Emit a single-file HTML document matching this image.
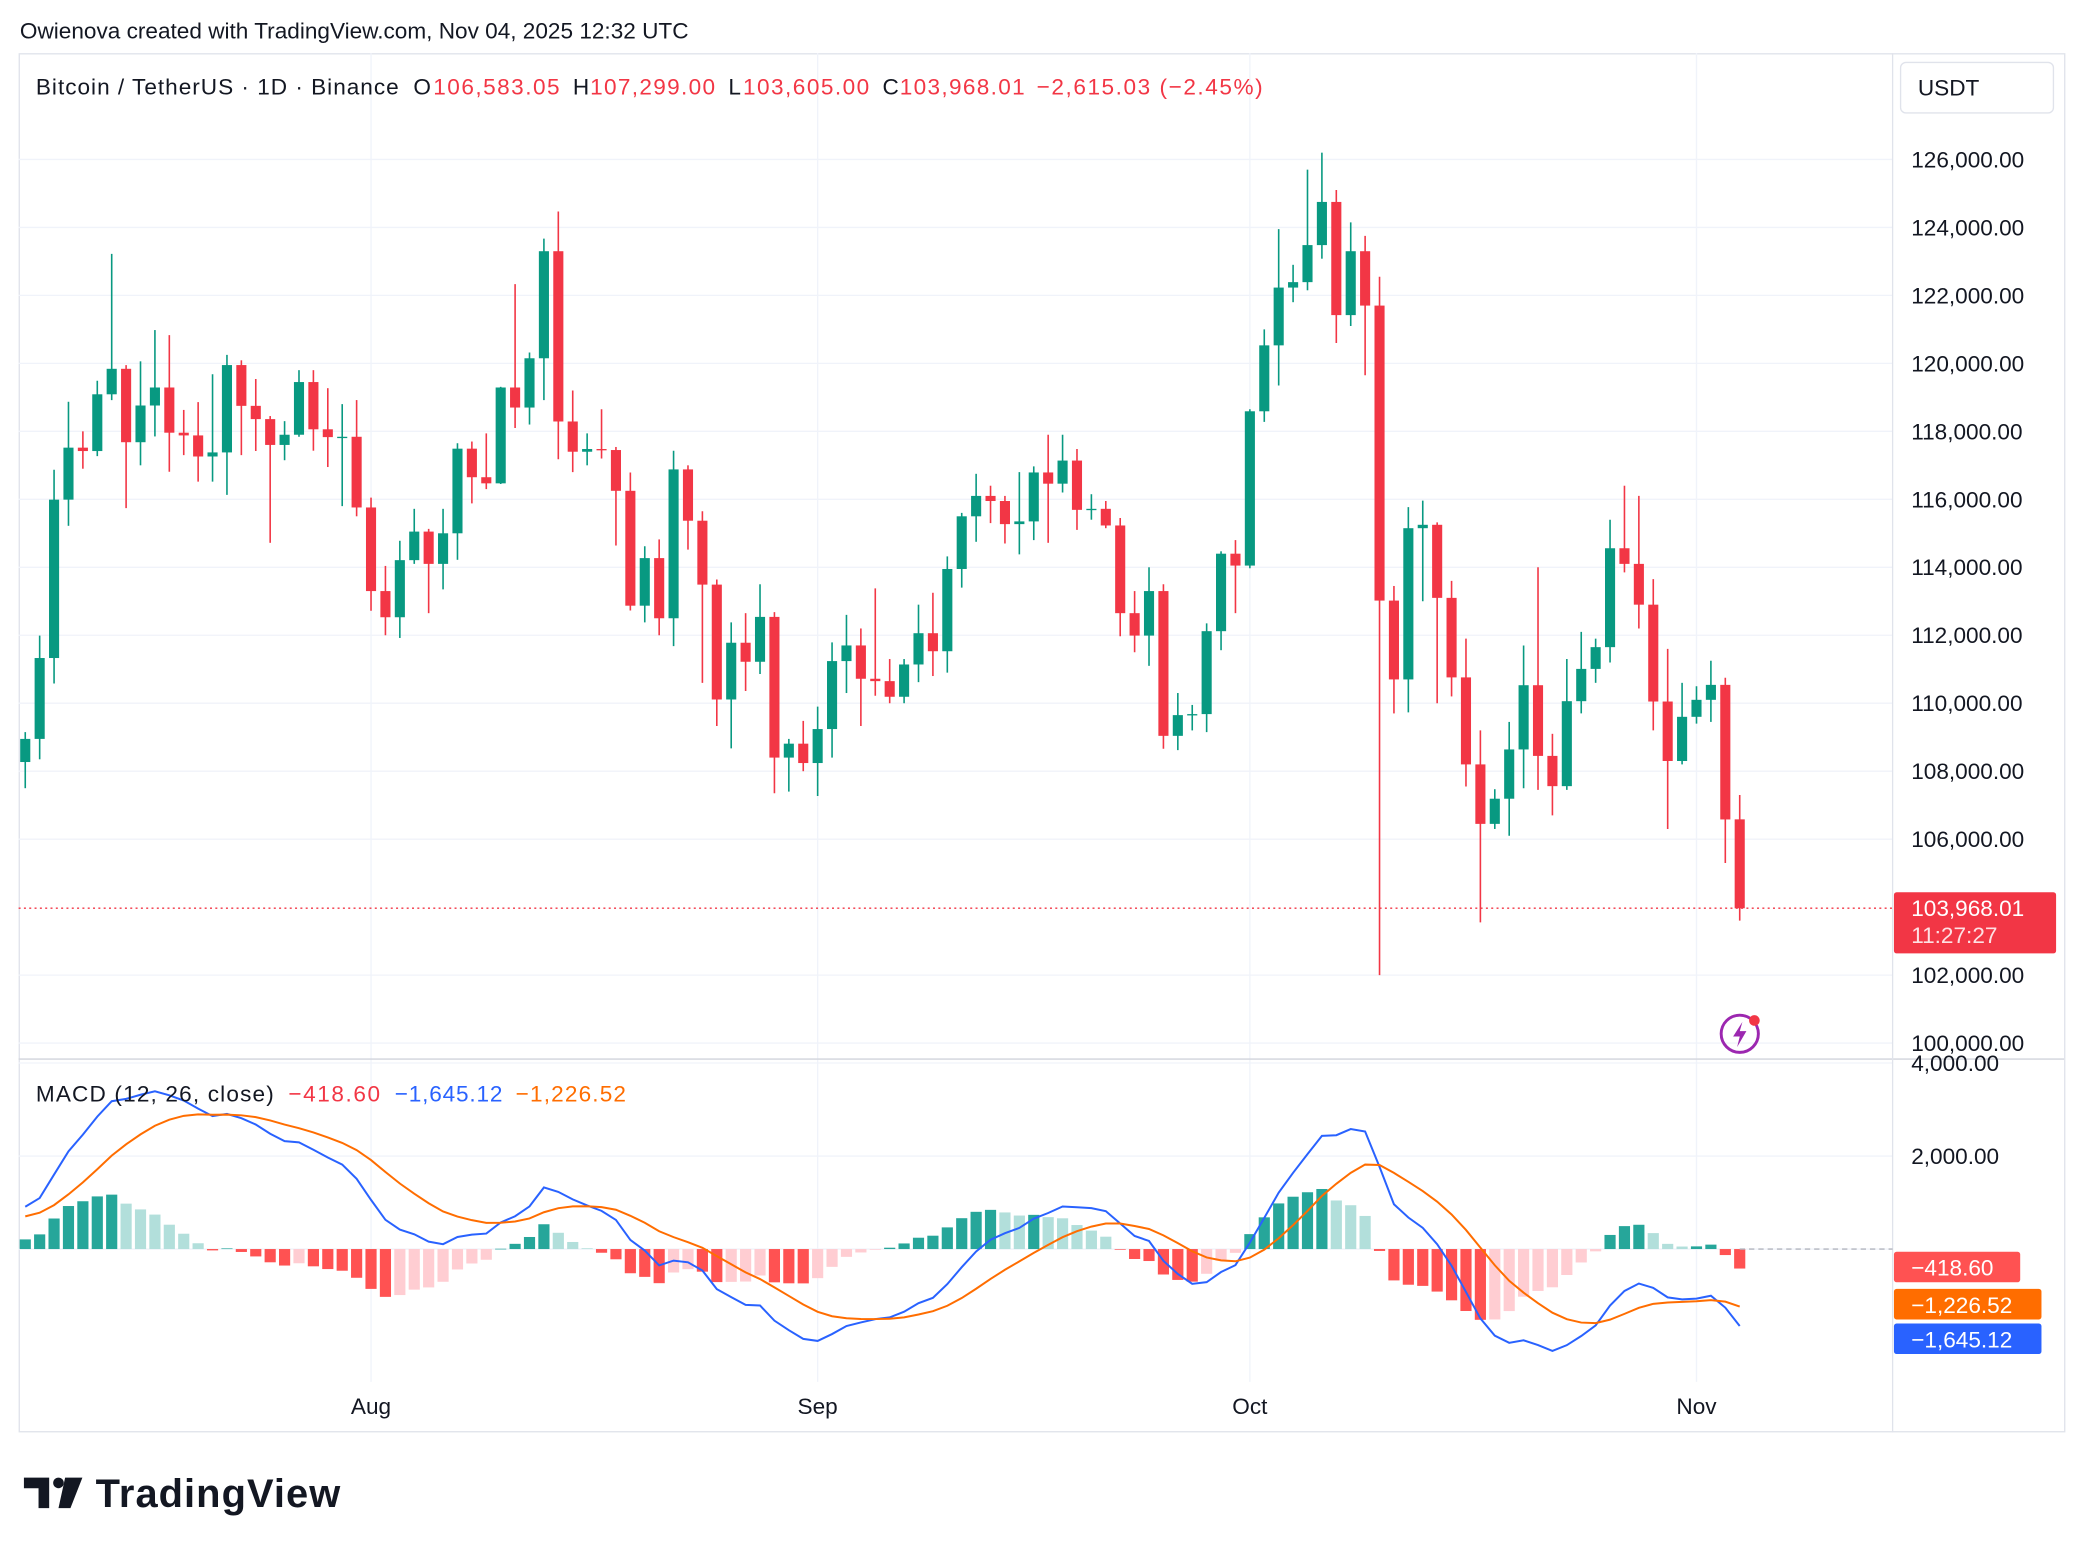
<!DOCTYPE html>
<html><head><meta charset="utf-8"><style>
html,body{margin:0;padding:0;background:#fff;width:2084px;height:1552px;overflow:hidden}
svg{display:block;font-family:"Liberation Sans",sans-serif}
</style></head><body>
<svg id="c" width="2084" height="1552" viewBox="0 0 1568 1168" preserveAspectRatio="none">
<text x="15" y="29" font-size="17" fill="#131722">Owienova created with TradingView.com, Nov 04, 2025 12:32 UTC</text>
<rect x="14.5" y="40.5" width="1539" height="1037" fill="none" stroke="#e0e3eb"/>
<g id="grid"></g>
<line x1="14" y1="797" x2="1553" y2="797" stroke="#d1d4dc"/>
<line x1="1424" y1="40" x2="1424" y2="1078" stroke="#e0e3eb"/>
<g id="marks"></g>
<g id="axis"></g>
<text y="71" font-size="17"><tspan x="27" fill="#131722" textLength="273">Bitcoin / TetherUS · 1D · Binance</tspan><tspan x="311" fill="#131722">O</tspan><tspan x="326" fill="#f23645" textLength="95">106,583.05</tspan><tspan x="431" fill="#131722">H</tspan><tspan x="444" fill="#f23645" textLength="94">107,299.00</tspan><tspan x="548" fill="#131722">L</tspan><tspan x="559" fill="#f23645" textLength="95">103,605.00</tspan><tspan x="664" fill="#131722">C</tspan><tspan x="677" fill="#f23645" textLength="94">103,968.01</tspan><tspan x="780" fill="#f23645" textLength="170">−2,615.03 (−2.45%)</tspan></text>
<rect x="1430" y="47" width="115" height="38" rx="4" fill="#fff" stroke="#e0e3eb"/>
<text x="1443" y="72" font-size="17" fill="#131722">USDT</text>
<text y="829" font-size="17"><tspan x="27" fill="#131722" textLength="179">MACD (12, 26, close)</tspan><tspan x="217" fill="#f23645" textLength="69">−418.60</tspan><tspan x="297" fill="#2962ff" textLength="81">−1,645.12</tspan><tspan x="388" fill="#ff6d00" textLength="83">−1,226.52</tspan></text>
<g><circle cx="1309" cy="778" r="14" fill="none" stroke="#9c27b0" stroke-width="2.2"/><path d="M1311 769 L1304 780 L1309 780 L1307 788 L1314 776 L1309 776 Z" fill="#9c27b0"/><circle cx="1320" cy="768" r="4" fill="#f23645"/></g>
<g><path d="M18 1112 H37 V1135 H29 V1120 H18 Z" fill="#131722"/><circle cx="44" cy="1116" r="4" fill="#131722"/><path d="M49 1112 H62 L53 1135 H44 Z" fill="#131722"/>
<text x="72" y="1134" font-size="30" font-weight="bold" fill="#131722" textLength="184">TradingView</text></g>
</svg>
<script>
const ohlc=[
[108270,109150,107500,108950],[108950,111990,108350,111330],[111330,116870,110580,115990],[115990,118870,115220,117520],[117520,118000,116900,117420],[117420,119490,117270,119090],[119090,123220,118920,119840],[119840,119950,115740,117680],[117680,120060,117000,118760],[118760,120980,117850,119290],[119290,120830,116810,117960],[117960,118630,117300,117880],[117880,118860,116520,117260],[117260,119680,116520,117380],[117380,120250,116130,119950],[119950,120090,117300,118750],[118750,119540,117420,118360],[118360,118450,114720,117600],[117600,118300,117150,117900],[117900,119800,117840,119450],[119450,119800,117430,118060],[118060,119270,116950,117830],[117830,118800,115800,117840],[117840,118920,115500,115760],
[115760,116050,112720,113300],[113300,114040,112000,112530],[112530,114780,111920,114210],[114210,115720,114100,115050],[115050,115130,112650,114100],[114100,115720,113350,115000],[115000,117650,114220,117490],[117490,117700,115880,116650],[116650,117940,116300,116470],[116470,119310,116450,119290],[119290,122330,118100,118700],[118700,120320,118200,120150],[120150,123670,118920,123300],[123300,124470,117180,118290],[118290,119200,116800,117400],[117400,117940,117000,117480],[117480,118650,117200,117450],[117450,117540,114640,116250],[116250,116790,112730,112870],[112870,114620,112380,114270],[114270,114820,112000,112500],[112500,117430,111680,116880],[116880,117000,114520,115370],[115370,115650,110600,113490],[113490,113640,109330,110110],[110110,112380,108670,111780],[111780,112650,110360,111220],[111220,113500,110860,112540],[112540,112680,107350,108400],[108400,108950,107400,108810],[108810,109480,108000,108240],
[108240,109900,107270,109240],[109240,111790,108400,111240],[111240,112600,110300,111700],[111700,112200,109330,110720],[110720,113380,110220,110650],[110650,111300,110000,110190],[110190,111300,110000,111140],[111140,112900,110620,112060],[112060,113250,110800,111530],[111530,114320,110900,113950],[113950,115600,113400,115500],[115500,116750,114750,116100],[116100,116400,115300,115950],[115950,116100,114700,115270],[115270,116800,114380,115350],[115350,116970,114800,116790],[116790,117900,114720,116460],[116460,117900,116200,117140],[117140,117480,115100,115690],[115690,116150,115400,115720],[115720,115950,115150,115230],[115230,115450,111970,112650],[112650,113300,111500,111990],[111990,114000,111100,113300],[113300,113500,108660,109040],[109040,110300,108620,109650],[109650,109950,109200,109680],[109680,112350,109150,112120],[112120,114470,111560,114400],[114400,114800,112650,114050],
[114050,118650,113970,118590],[118590,121000,118280,120530],[120530,123950,119350,122230],[122230,122900,121800,122390],[122390,125700,122150,123480],[123480,126200,123080,124750],[124750,125100,120600,121420],[121420,124150,121100,123300],[123300,123750,119650,121700],[121700,122550,102000,113020],[113020,113450,109700,110700],[110700,115770,109730,115150],[115150,115960,113000,115250],[115250,115320,110000,113100],[113100,113600,110200,110760],[110760,111900,107550,108200],[108200,109200,103550,106450],[106450,107470,106300,107190],[107190,109450,106100,108640],[108640,111700,107500,110530],[110530,114000,107450,108450],[108450,109100,106700,107560],[107560,111300,107450,110060],[110060,112100,109700,111010],[111010,111900,110600,111650],[111650,115400,111200,114560],[114560,116400,113850,114100],[114100,116100,112200,112900],[112900,113650,109200,110050],[110050,111600,106300,108300],[108300,110600,108200,109600],
[109600,110500,109400,110100],[110100,111250,109450,110540],[110540,110750,105300,106580],[106583,107299,103605,103968]];
const priceTicks=[100000,102000,104000,106000,108000,110000,112000,114000,116000,118000,120000,122000,124000,126000];
const macdTicks=[0,2000,4000];
const monthLabels=["Aug","Sep","Oct","Nov"];
const monthIdx=[24,55,85,116];
const lastPrice=103968.01;
const NS="http://www.w3.org/2000/svg";
const xOf=i=>19+i*10.84;
const yP=p=>120+(126000-p)*665/26000;
const yM=v=>940-v*0.035;
function el(t,a,p){const e=document.createElementNS(NS,t);for(const k in a)e.setAttribute(k,a[k]);p.appendChild(e);return e;}
const grid=document.getElementById('grid'),marks=document.getElementById('marks'),axis=document.getElementById('axis');
priceTicks.forEach(p=>{if(p===104000)return;
const l=el('line',{x1:14,x2:1424,y1:yP(p),y2:yP(p),stroke:'#f0f3fa'},grid);


const t=el('text',{x:1438,y:yP(p)+6,'font-size':17,fill:'#131722'},axis);t.textContent=p.toLocaleString('en-US')+'.00';

});
macdTicks.forEach(v=>{
const l=el('line',{x1:14,x2:1424,y1:yM(v),y2:yM(v),stroke:'#f0f3fa'},grid);


if(v===0)return;
const t=el('text',{x:1438,y:yM(v)+6,'font-size':17,fill:'#131722'},axis);t.textContent=v.toLocaleString('en-US')+'.00';

});
monthIdx.forEach((m,k)=>{const x=xOf(m);
const l=el('line',{x1:x,x2:x,y1:40,y2:1040,stroke:'#f0f3fa'},grid);


const t=el('text',{x:x,y:1064,'font-size':17,fill:'#131722','text-anchor':'middle'},axis);t.textContent=monthLabels[k];

});
ohlc.forEach((d,i)=>{const [o,h,l,c]=d;const col=c>=o?'#089981':'#f23645';const x=xOf(i);
const g=el('g',{},marks);


el('line',{x1:x,x2:x,y1:yP(h),y2:yP(l),stroke:col,'stroke-width':1.2},g);
const y1=yP(Math.max(o,c)),y2=yP(Math.min(o,c));
el('rect',{x:x-3.8,y:y1,width:7.6,height:Math.max(1,y2-y1),fill:col},g);});
const ly=yP(lastPrice);
const pl=el('line',{x1:14,x2:1424,y1:ly,y2:ly,stroke:'#f23645','stroke-dasharray':'1.5 2.5'},marks);


const lb=el('rect',{x:1425,y:ly-12,width:122,height:46,rx:2,fill:'#f23645'},axis);


let t=el('text',{x:1438,y:ly+6,'font-size':17,fill:'#fff'},axis);t.textContent=lastPrice.toLocaleString('en-US',{minimumFractionDigits:2});
t=el('text',{x:1438,y:ly+26,'font-size':17,fill:'#fde0e3'},axis);t.textContent='11:27:27';
const closes=ohlc.map(d=>d[3]);
let e12=108000,e26=107100,sig=650;const macd=[],sg=[],hist=[];
closes.forEach(c=>{e12=e12+(c-e12)*2/13;e26=e26+(c-e26)*2/27;const m=e12-e26;sig=sig+(m-sig)*2/10;macd.push(m);sg.push(sig);hist.push(m-sig);});
hist.forEach((h,i)=>{const prev=i?hist[i-1]:h;let col;
if(h>=0)col=h>=prev?'#26a69a':'#b2dfdb';else col=h<prev?'#ff5252':'#ffcdd2';
const y=Math.min(yM(0),yM(h));const r=el('rect',{x:xOf(i)-4.2,y:y,width:8.4,height:Math.max(0.5,Math.abs(yM(h)-yM(0))),fill:col},marks);

});
const zl=el('line',{x1:xOf(ohlc.length-1),x2:1424,y1:yM(0),y2:yM(0),stroke:'#b2b5be','stroke-dasharray':'4 3'},marks);


const pm=el('polyline',{points:macd.map((v,i)=>xOf(i)+','+yM(v)).join(' '),fill:'none',stroke:'#2962ff','stroke-width':1.5},marks);


const ps=el('polyline',{points:sg.map((v,i)=>xOf(i)+','+yM(v)).join(' '),fill:'none',stroke:'#ff6d00','stroke-width':1.5},marks);


const tags=[['−418.60','#ff5252',942,95],['−1,226.52','#ff6d00',970,111],['−1,645.12','#2962ff',996,111]];
tags.forEach(([s,c,y,w])=>{const r=el('rect',{x:1425,y:y,width:w,height:23,rx:2,fill:c},axis);


const tt=el('text',{x:1438,y:y+18,'font-size':17,fill:'#fff'},axis);tt.textContent=s;});
</script>
</body></html>
